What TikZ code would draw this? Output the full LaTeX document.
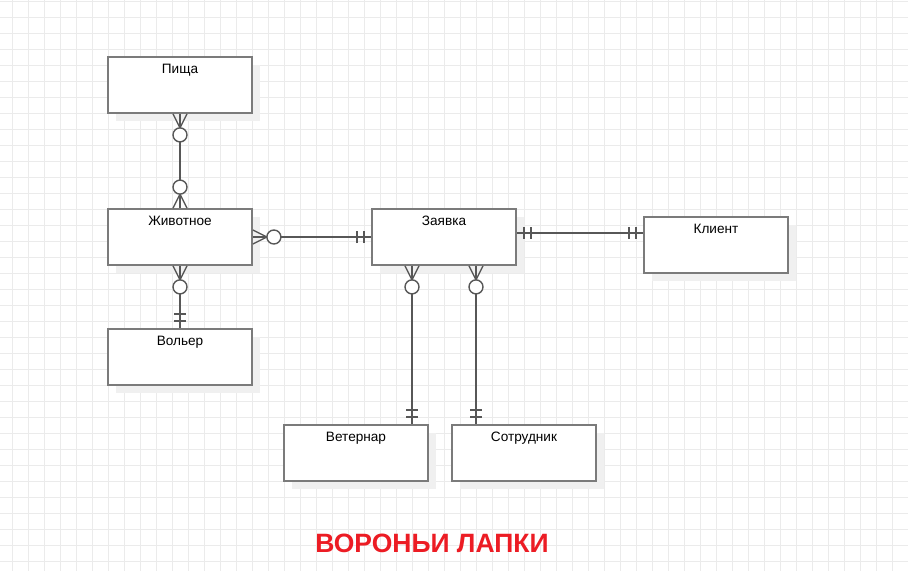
\documentclass[tikz,border=0pt]{standalone}
\usepackage{fontspec}
\setmainfont{Liberation Sans}
\usetikzlibrary{calc,shadows}
\definecolor{gridgray}{HTML}{EBEBEB}
\definecolor{boxgray}{HTML}{7B7B7B}
\definecolor{linegray}{HTML}{575757}
\definecolor{titlered}{HTML}{EC1C24}

\begin{document}
\begin{tikzpicture}[x=1pt,y=-1pt,
  entity/.style={draw=boxgray,line width=1.8pt,fill=white,
    minimum width=144pt,minimum height=56pt,inner sep=4pt,
    text height=12pt,text depth=36pt,font=\fontsize{13.6}{15}\selectfont,
    drop shadow={shadow xshift=8pt,shadow yshift=-8pt,fill=black!6,opacity=1}},
  rel/.style={draw=linegray,line width=1.4pt},
  gridline/.style={draw=gridgray,line width=0.9pt},
  zeromany/.pic={\draw[rel] (0,-7) -- (14,0) -- (0,7);
    \draw[rel,fill=white] (21,0) circle (7pt);},
  oneone/.pic={\draw[rel] (7,-6) -- (7,6) (14,-6) -- (14,6);}]
\useasboundingbox[fill=white] (0,0) rectangle (908,571);
% ---------- grid ----------
\foreach \gx in {12,28,...,908} \draw[gridline] (\gx,0) -- (\gx,571);
\foreach \gy in {1,17,...,571} \draw[gridline] (0,\gy) -- (908,\gy);
% ---------- entities ----------
\node[entity] (pisha)   at (180,85)  {Пища};
\node[entity] (animal)  at (180,237) {Животное};
\node[entity] (volier)  at (180,357) {Вольер};
\node[entity] (zayavka) at (444,237) {Заявка};
\node[entity] (klient)  at (716,245) {Клиент};
\node[entity] (vet)     at (356,453) {Ветернар};
\node[entity] (sotr)    at (524,453) {Сотрудник};
% ---------- relations ----------
\draw[rel] (pisha.south) -- (animal.north);
\pic[rotate=-90] at (pisha.south) {zeromany};
\pic[rotate=90] at (animal.north) {zeromany};

\draw[rel] (animal.east) -- (zayavka.west);
\pic at (animal.east) {zeromany};
\pic[rotate=180] at (zayavka.west) {oneone};

\draw[rel] (animal.south) -- (volier.north);
\pic[rotate=-90] at (animal.south) {zeromany};
\pic[rotate=90] at (volier.north) {oneone};

\coordinate (zk) at ($(zayavka.east)+(0,-4)$);
\coordinate (kz) at (zk -| klient.west);
\draw[rel] (zk) -- (kz);
\pic at (zk) {oneone};
\pic[rotate=180] at (kz) {oneone};

\coordinate (zv) at ($(zayavka.south)+(-32,0)$);
\coordinate (vz) at (zv |- vet.north);
\draw[rel] (zv) -- (vz);
\pic[rotate=-90] at (zv) {zeromany};
\pic[rotate=90] at (vz) {oneone};

\coordinate (zs) at ($(zayavka.south)+(32,0)$);
\coordinate (sz) at (zs |- sotr.north);
\draw[rel] (zs) -- (sz);
\pic[rotate=-90] at (zs) {zeromany};
\pic[rotate=90] at (sz) {oneone};
% ---------- title ----------
\node[font=\fontsize{26.5}{30}\selectfont\bfseries,text=titlered] (title) at (432,543) {ВОРОНЬИ ЛАПКИ};
\end{tikzpicture}
\end{document}
